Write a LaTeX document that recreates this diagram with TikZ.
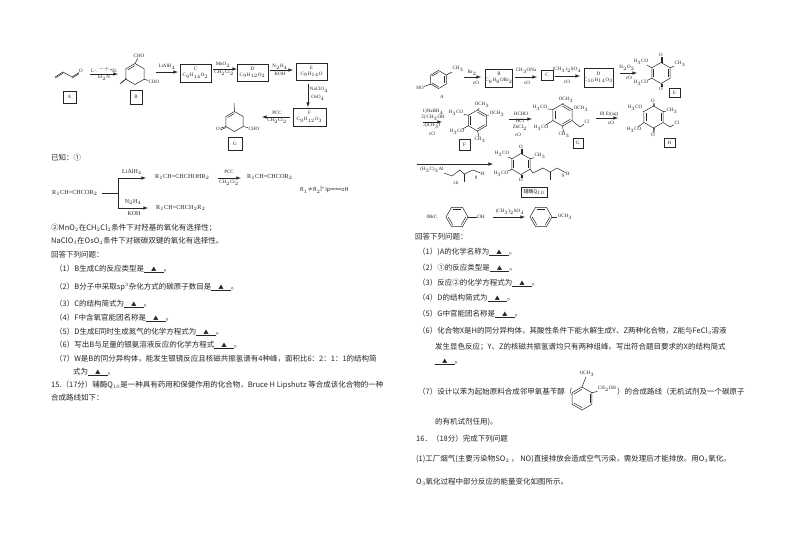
\documentclass[tikz,border=0pt]{standalone}
\usepackage{amsmath,amssymb}
\usepackage{fontspec}
\setmainfont{Liberation Serif}
\newfontfamily\cjk{Noto Sans CJK SC}
\usetikzlibrary{calc}
\DeclareMathSizes{5}{5}{3.6}{3}
\DeclareMathSizes{5.5}{5.5}{4}{3}
\DeclareMathSizes{6}{6}{4.4}{3.5}
\DeclareMathSizes{6.2}{6.2}{4.5}{3.5}
\DeclareMathSizes{7.5}{7.5}{5.5}{4}
\newcommand{\ans}{\underline{\hspace{7pt}{\fontsize{5.5}{7}\selectfont ▲}\hspace{7pt}}}
% hexagon corners 1..6 run clockwise, 0 is the centre
\newcommand{\hexring}[5]{%
	\coordinate (#10) at (#2,#3);
	\foreach \k in {1,...,6} {\coordinate (#1\k) at ($(#10)+({#5+60*\k}:#4)$);}
	\draw [bond] (#11) -- (#12) -- (#13) -- (#14) -- (#15) -- (#16) -- cycle;}
\newcommand{\dbl}[3]{\draw [bond] ($(#1#2)!.2!(#10)$) -- ($(#1#3)!.2!(#10)$);}
\begin{document}
\begin{tikzpicture}[x=1pt, y=-1pt]
	\tikzstyle{bond} = [line width=0.5pt, black!85]
	\tikzstyle{rxnline} = [line width=0.6pt, black!85, ->, >=latex]
	\tikzstyle{chem} = [inner sep=0.4pt, font=\fontsize{5}{6}\selectfont, black!85]
	\tikzstyle{boxnode} = [draw, line width=0.6pt, black!85, inner sep=0pt, align=center, font=\fontsize{5}{6}\selectfont]
	\tikzstyle{para} = [anchor=west, inner sep=0pt, font=\cjk\fontsize{7.5}{9}\selectfont, black!85]
	\useasboundingbox (0,0) rectangle (794,550);
	\fill [white] (0,0) rectangle (794,550);

	% left column text
	\foreach \n/\x/\y/\t in {
		known/51/158/{已知：①},
		mno/51/228/{②MnO$_2$在CH$_2$Cl$_2$条件下对羟基的氧化有选择性；},
		naclo/51/241/{NaClO$_3$在OsO$_4$条件下对碳碳双键的氧化有选择性。},
		askl/51/255/{回答下列问题：},
		lq1/55/269/{（1）B生成C的反应类型是\ans。},
		lq2/55/287/{（2）B分子中采取sp$^3$杂化方式的碳原子数目是\ans。},
		lq3/55/304/{（3）C的结构简式为\ans。},
		lq4/55/318/{（4）F中含氧官能团名称是\ans。},
		lq5/55/332/{（5）D生成E同时生成氮气的化学方程式为\ans。},
		lq6/55/345/{（6）写出B与足量的银氨溶液反应的化学方程式\ans。},
		lq7/55/359/{（7）W是B的同分异构体，能发生银镜反应且核磁共振氢谱有4种峰，面积比6：2：1：1的结构简},
		lq7b/73/372/{式为\ans。},
		q15/51/385/{15.（17分）辅酶Q$_{10}$是一种具有药用和保健作用的化合物，Bruce H Lipshutz 等合成该化合物的一种},
		q15b/51/398/{合成路线如下：},
		askr/415/237/{回答下列问题：},
		rq1/418/252/{（1）)A的化学名称为\ans。},
		rq2/418/268/{（2）①的反应类型是\ans。},
		rq3/418/283/{（3）反应②的化学方程式为\ans。},
		rq4/418/298/{（4）D的结构简式为\ans。},
		rq5/418/314/{（5）G中官能团名称是\ans。},
		rq6/418/331/{（6）化合物X是H的同分异构体，其酸性条件下能水解生成Y、Z两种化合物，Z能与FeCl$_3$溶液},
		rq6b/435/347/{发生显色反应；Y、Z的核磁共振氢谱均只有两种组峰。写出符合题目要求的X的结构简式},
		rq6c/435/362/{\ans。},
		rq7/418/392/{（7）设计以苯为起始原料合成邻甲氧基苄醇（},
		rq7b/617/392/{）的合成路线（无机试剂及一个碳原子},
		rq7c/435/422/{的有机试剂任用)。},
		q16/416/439/{16．（18分）完成下列问题},
		q16a/416/459/{(1)工厂烟气(主要污染物SO$_2$ ， NO)直接排放会造成空气污染，需处理后才能排放。用O$_3$氧化。},
		q16b/416/482/{O$_3$氧化过程中部分反应的能量变化如图所示。}}
		{\node [para] (\n) at (\x,\y) {\t};}

	% boxes of the schemes
	\node [boxnode, minimum width=13pt, minimum height=12pt] (boxa) at (69.5,97) {A};
	\node [boxnode, minimum width=12pt, minimum height=14pt] (boxb) at (136,97) {B};
	\node [boxnode, minimum width=31pt, minimum height=18pt] (boxc) at (195.5,73) {C\\C$_9$H$_{14}$O$_2$};
	\node [boxnode, minimum width=31pt, minimum height=17pt] (boxd) at (252.5,72.5) {D\\C$_9$H$_{12}$O$_2$};
	\node [boxnode, minimum width=31pt, minimum height=17pt] (boxe) at (311.5,71.5) {E\\C$_9$H$_{14}$O};
	\node [boxnode, minimum width=33pt, minimum height=18pt] (boxf) at (309.5,117) {F\\C$_9$H$_{12}$O$_3$};
	\node [boxnode, minimum width=14pt, minimum height=13pt] (boxg) at (235,143.5) {G};
	\node [boxnode, minimum width=26pt, minimum height=18pt] (rboxb) at (499,78) {B\\C$_8$H$_8$OBr$_2$};
	\node [boxnode, minimum width=12pt, minimum height=10pt] (rboxc) at (547,75) {C};
	\node [boxnode, minimum width=27pt, minimum height=19pt] (rboxd) at (598.5,77.5) {D\\C$_{10}$H$_{14}$O$_3$};
	\node [boxnode, minimum width=11pt, minimum height=9pt] (rboxe) at (674.5,92.5) {E};
	\node [boxnode, minimum width=11pt, minimum height=11pt] (rboxf) at (464.5,144.5) {F};
	\node [boxnode, minimum width=10pt, minimum height=10pt] (rboxg) at (578,143) {G};
	\node [boxnode, minimum width=11pt, minimum height=9pt] (rboxh) at (669.5,142.5) {H};
	\node [boxnode, font=\cjk\fontsize{5}{6}\selectfont, minimum width=26pt, minimum height=10pt] (rboxq) at (534,192) {辅酶Q$_{10}$};

	% reaction arrows
	\foreach \n/\xa/\ya/\xb/\yb in {
		ab/90/74/118/74, bc/156/72/178/72, cd/213/69/237/69, de/270/70/293/70, ef/308/84/308/107, fg/290/117/262/117,
		ka/118/178/146/178, kb/118/208/148/208, kc/218/178/241/178,
		ra/464/77/481/77, rb/515/77/537/77, rc/555/76/580/76, rd/620/73/637/73,
		re/423/122/442/122, rf/509/119/532/119, rg/596/118/618/118, rh/417/164/493/164, ri/493/217/525/217}
		{\coordinate (\n s) at (\xa,\ya); \coordinate (\n e) at (\xb,\yb); \draw [rxnline] (\n s) -- (\n e);}

	% labels of the schemes
	\foreach \n/\x/\y/\t in {
		ao/81/71/O, abu/104/70/{L-$_{\cdot}$$^{-+}$*Ei}, abd/104/78/{Et$_2$N},
		bcho/139/56/CHO, bchob/154/82/CHO, bcu/167/67/{LiAlH$_4$},
		cdu/223/65/{MnO$_2$}, cdd/224/73/{CH$_2$Cl$_2$}, deu/280/67/{N$_2$H$_4$}, ded/280/74/KOH,
		efu/319/90/{NaClO$_4$}, efd/318/98/{OsO$_4$}, fgu/277/113/PCC, fgd/277/121/{CH$_2$Cl$_2$},
		go/218/129/O, gcho/254/129/CHO,
		kcu/229/172/PCC, kcd/229/183/{CH$_2$Cl$_2$},
		rah/420/88/HO, rach/458/69/{CH$_3$}, ralab/442/97/A,
		rau/472/73/{Br$_2$}, rad/476/83/cO, rbu/526/71/{CH$_3$ONa}, rbd/527/83/cO,
		rcu/567/70/{(CH$_3$)$_2$SO$_4$}, rcd/567/82/cO, rdu/627/68/{H$_2$O$_2$}, rdd/629/78/cO,
		eot/661/55/O, eob/661/89/O, eme/641/62/{H$_3$CO}, emf/641/83/{H$_3$CO}, ech/680/64/{CH$_3$},
		rea/433/112/{1)NaBH$_4$}, reb/433/118/{2) CH$_3$OH}, rec/432/126/{3)CH$_3$I}, red/432/134/cO,
		fot/482/105/{OCH$_3$}, for/497/114/{OCH$_3$}, fol/456/113/{H$_3$CO}, fob/457/132/{H$_3$CO}, fch/480/140/{CH$_3$},
		rfa/521/114/HCHO, rfb/520/121/HCl, rfc/520/128/{ZnCl$_2$}, rfd/518/135/cO,
		got/566/100/{OCH$_3$}, gor/581/109/{OCH$_3$}, gol/540/108/{H$_3$CO}, gob/541/128/{H$_3$CO}, gch/564/135/{CH$_3$}, gcl/587/122/Cl,
		rgu/609/114/{III Et(aq)}, rgd/611/123/cO,
		hot/653/101/O, hob/653/135/O, hol/635/108/{H$_3$CO}, hoc/634/130/{H$_3$CO}, hch/672/111/{CH$_3$}, hcl/677/123/Cl,
		rhd/432/170/{(H$_3$C)$_3$Al}, rhh/483/174/H, rhn/476/178/9, rhc/456/183/c6,
		qot/521/147/O, qob/521/180/O, qol/502/154/{H$_3$CO}, qoc/501/174/{H$_3$CO}, qch/540/156/{CH$_3$}, qh/568/174/H, qn/563/176/9,
		phen/432/217/{0BrC}, phoh/481/217/OH, riu/510/212/{(CH$_3$)$_2$SO$_4$}, anis/565/217/{OCH$_3$},
		xoc/587/374/{OCH$_3$}, xch/607/389/{CH$_2$OH}}
		{\node [chem] (\n) at (\x,\y) {\t};}

	% known reaction, larger type
	\tikzstyle{known} = [anchor=west, inner sep=0pt, font=\fontsize{6.2}{7}\selectfont, black!85]
	\node [known] (r1) at (52,193) {R$_1$CH=CHCOR$_2$};
	\node [known] (r2) at (155,177) {R$_1$CH=CHCHOHR$_2$};
	\node [known] (r3) at (247,177) {R$_1$CH=CHCOR$_2$};
	\node [known] (r4) at (156,208) {R$_1$CH=CHCH$_2$R$_2$};
	\node [known, font=\cjk\fontsize{5.5}{7}\selectfont] (r5) at (300,190) {R$_1$≠R$_2$Î° Ip∞∞oH};
	\node [chem, font=\fontsize{6}{7}\selectfont] (kau) at (132,172) {LiAlH$_4$};
	\node [chem, font=\fontsize{6}{7}\selectfont] (kbu) at (133,202) {N$_2$H$_4$};
	\node [chem, font=\fontsize{6}{7}\selectfont] (kbd) at (134,214) {KOH};
	\coordinate (fork) at (118,193);
	\draw [bond] (r1.east) ++(4,0) coordinate (forks) -- (fork);
	\draw [bond] (kas) -- (kbs);

	% acrolein
	\coordinate (ac1) at (55,77);
	\coordinate (ac2) at (63,72);
	\coordinate (ac3) at (72,77);
	\coordinate (ac4) at (79,72.5);
	\draw [bond] (ac1) -- (ac2) -- (ac3) -- (ac4);
	\draw [bond] ([yshift=-1.2pt]ac1) -- ([yshift=-1.2pt]ac2);
	\draw [bond] ([yshift=-1.2pt]ac3) -- ([yshift=-1.2pt]ac4);

	% rings left
	\hexring{b}{135}{74}{10.5}{-150}
	\dbl{b}{6}{1}
	\coordinate (bex) at (120,84);
	\draw [bond] (b1) -- (bcho);
	\draw [bond] (b3) -- (bchob);
	\draw [bond] (b5) -- (bex);
	\draw [bond] ([xshift=.8pt,yshift=1pt]b5) -- ([xshift=.8pt,yshift=1pt]bex);
	\hexring{g}{234.5}{121.5}{10}{-150}
	\dbl{g}{6}{1}
	\coordinate (gme) at (234,103);
	\draw [bond] (g1) -- (gme);
	\draw [bond] (g5) -- (go);
	\draw [bond] ([yshift=-1pt]g5) -- ([yshift=-1pt]go.east);
	\draw [bond] (g3) -- (gcho);

	% rings right
	\hexring{a}{438.5}{79.5}{9}{-150}
	\dbl{a}{6}{1} \dbl{a}{2}{3} \dbl{a}{4}{5}
	\draw [bond] (a5) -- (rah);
	\draw [bond] (a2) -- (rach);
	\hexring{e}{661}{73}{10.5}{-150}
	\dbl{e}{5}{6} \dbl{e}{2}{3}
	\draw [bond] (e1) -- (eot);
	\draw [bond] ([xshift=1pt]e1) -- ([xshift=1pt]eot.south);
	\draw [bond] (e4) -- (eob);
	\draw [bond] ([xshift=1pt]e4) -- ([xshift=1pt]eob.north);
	\draw [bond] (e6) -- (eme);
	\draw [bond] (e5) -- (emf);
	\draw [bond] (e2) -- (ech);
	\hexring{f}{477.5}{120.5}{10.5}{-150}
	\dbl{f}{1}{2} \dbl{f}{3}{4} \dbl{f}{5}{6}
	\draw [bond] (f1) -- (fot);
	\draw [bond] (f2) -- (for);
	\draw [bond] (f6) -- (fol);
	\draw [bond] (f5) -- (fob);
	\draw [bond] (f4) -- (fch);
	\hexring{h}{562.5}{115}{11}{-150}
	\dbl{h}{1}{2} \dbl{h}{3}{4} \dbl{h}{5}{6}
	\draw [bond] (h1) -- (got);
	\draw [bond] (h2) -- (gor);
	\draw [bond] (h6) -- (gol);
	\draw [bond] (h5) -- (gob);
	\draw [bond] (h4) -- (gch);
	\coordinate (hm) at (580,127);
	\draw [bond] (h3) -- (hm) -- (gcl);
	\hexring{k}{653.5}{117}{11}{-150}
	\dbl{k}{5}{6} \dbl{k}{2}{3}
	\draw [bond] (k1) -- (hot);
	\draw [bond] ([xshift=1pt]k1) -- ([xshift=1pt]hot.south);
	\draw [bond] (k4) -- (hob);
	\draw [bond] ([xshift=1pt]k4) -- ([xshift=1pt]hob.north);
	\draw [bond] (k6) -- (hol);
	\draw [bond] (k5) -- (hoc);
	\draw [bond] (k2) -- (hch);
	\coordinate (km) at (670,127);
	\draw [bond] (k3) -- (km) -- (hcl);

	% side chain under the long arrow
	\coordinate (sa) at (444,173);
	\coordinate (sb) at (452,176);
	\coordinate (sc) at (460,170);
	\coordinate (sd) at (464,174);
	\coordinate (se) at (473,170);
	\coordinate (sm) at (464,182);
	\draw [bond] (sa) -- (sb) -- (sc) -- (sd) -- (se) -- (rhh);
	\draw [bond] (sd) -- (sm);
	% quinone
	\hexring{q}{521}{164}{10.5}{-150}
	\dbl{q}{5}{6} \dbl{q}{2}{3}
	\draw [bond] (q1) -- (qot);
	\draw [bond] ([xshift=1pt]q1) -- ([xshift=1pt]qot.south);
	\draw [bond] (q4) -- (qob);
	\draw [bond] ([xshift=1pt]q4) -- ([xshift=1pt]qob.north);
	\draw [bond] (q6) -- (qol);
	\draw [bond] (q5) -- (qoc);
	\draw [bond] (q2) -- (qch);
	\coordinate (qa) at (533,173);
	\coordinate (qb) at (543,168);
	\coordinate (qc) at (550,172);
	\coordinate (qd) at (557,168);
	\coordinate (qm) at (550,180);
	\draw [bond] (q3) -- (qa) -- (qb) -- (qc) -- (qd) -- (qh);
	\draw [bond] (qc) -- (qm);

	% phenols, corners left and right
	\hexring{m}{457}{217}{11}{-180}
	\dbl{m}{5}{6} \dbl{m}{1}{2} \dbl{m}{3}{4}
	\draw [bond] (m3) -- (phoh);
	\hexring{n}{541}{217}{11}{-180}
	\dbl{n}{5}{6} \dbl{n}{1}{2} \dbl{n}{3}{4}
	\draw [bond] (n3) -- (anis);

	% benzyl alcohol in the text
	\hexring{x}{582}{398.5}{11.5}{-150}
	\dbl{x}{6}{1} \dbl{x}{2}{3} \dbl{x}{4}{5}
	\draw [bond] (x1) -- (xoc);
	\draw [bond] (x2) -- (xch);
\end{tikzpicture}
\end{document}
